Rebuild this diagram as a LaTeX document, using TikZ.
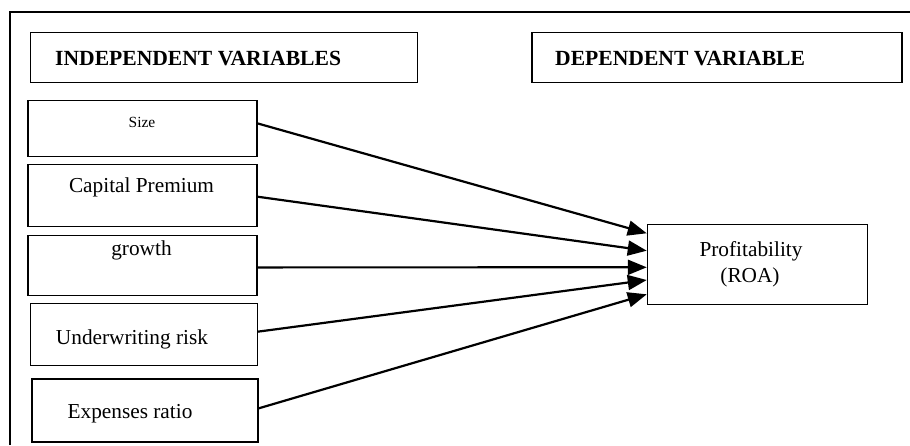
\documentclass[tikz,border=0pt]{standalone}
\usepackage{fontspec}
\setmainfont{Liberation Serif}
\usetikzlibrary{arrows.meta}
\tikzset{
  box/.style={draw,line width=1.1pt,inner sep=0pt},
  lbl/.style={anchor=base,inner sep=0pt,font=\fontsize{21.3}{24}\selectfont},
  hdr/.style={anchor=base west,inner sep=0pt,font=\fontsize{21.6}{24}\selectfont\bfseries},
  arr/.style={line width=2.2pt,-{Triangle[length=19pt,width=15pt]}}
}
\begin{document}
\begin{tikzpicture}[x=1pt,y=-1pt]
  \useasboundingbox (0,0) rectangle (910,445);
  \draw[line width=2.2pt] (10,445) -- (10,12.3) -- (910,12.3);
  % headings
  \node[box,minimum width=386.3pt,minimum height=50.4pt] (11) at (223.9,57.5) {};
  \node[box,minimum width=370pt,minimum height=50.4pt] (12) at (717,57.5) {};
  \node[hdr] (11t) at (55,65.7) {INDEPENDENT VARIABLES};
  \node[hdr] (12t) at (555,65.7) {DEPENDENT VARIABLE};
  % independent variables
  \node[box,minimum width=229pt,minimum height=55.3pt] (21) at (142.5,128.4) {};
  \node[box,minimum width=229pt,minimum height=61.7pt] (22) at (142.5,195.2) {};
  \node[box,minimum width=229pt,minimum height=59.7pt] (23) at (142.5,265.2) {};
  \node[box,minimum width=226.7pt,minimum height=61.7pt] (24) at (143.7,334.2) {};
  \node[box,line width=2.2pt,minimum width=226pt,minimum height=62.4pt] (25) at (144.7,410.5) {};
  \node[lbl,font=\fontsize{15.5}{18}\selectfont] (21t) at (142,127.7) {Size};
  \node[lbl] (22t) at (141.5,192.3) {Capital Premium};
  \node[lbl] (23t) at (141.5,255) {growth};
  \node[lbl] (24t) at (132,344) {Underwriting risk};
  \node[lbl] (25t) at (130,418.3) {Expenses ratio};
  % dependent variable
  \node[box,minimum width=220pt,minimum height=80.4pt] (31) at (757.3,264.5) {};
  \node[lbl] (31t) at (751,256.7) {Profitability};
  \node[lbl] (31u) at (750,282.7) {(ROA)};
  % links
  \draw[arr] ([yshift=5pt]21.east) -- ([yshift=31.2pt]31.west);
  \draw[arr] ([yshift=-1.5pt]22.east) -- ([yshift=13.8pt]31.west);
  \draw[arr] ([yshift=-2.2pt]23.east) -- ([yshift=-2.8pt]31.west);
  \draw[arr] ([yshift=2.5pt]24.east) -- ([yshift=-15.5pt]31.west);
  \draw[arr] ([yshift=2.2pt]25.east) -- ([yshift=-29.8pt]31.west);
\end{tikzpicture}
\end{document}
